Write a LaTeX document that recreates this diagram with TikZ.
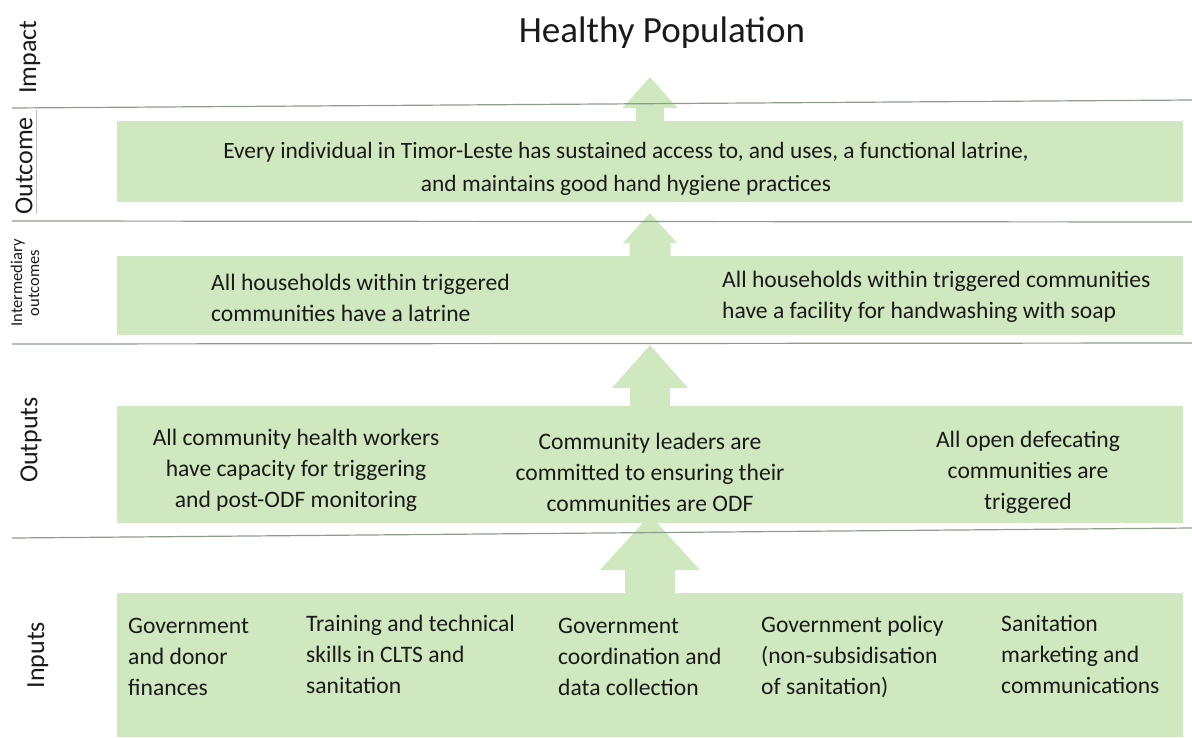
\documentclass[tikz,border=0pt]{standalone}
\usepackage{fontspec}
\setmainfont{Carlito}
\usetikzlibrary{calc}
\definecolor{boxgreen}{HTML}{D0E8BF}
\definecolor{rulegray}{HTML}{8E9C8E}
\definecolor{inkdark}{HTML}{1A1A1A}

\begin{document}
\begin{tikzpicture}[x=1pt,y=-1pt,
  panel/.style={fill=boxgreen, draw=none, inner sep=0pt, minimum width=1066pt},
  blockarrow/.style={fill=boxgreen, draw=none},
  sep/.style={draw=rulegray, line width=1.2pt},
  txt/.style={inner sep=0pt, text=inkdark, font=\fontsize{23.6}{31}\selectfont},
  lbl/.style={inner sep=0pt, rotate=90, text=inkdark, font=\fontsize{26}{30}\selectfont}]

\useasboundingbox (0,0) rectangle (1192,737);

% level panels
\node[panel, minimum height=81pt]  (outc)  at (650,161.5) {};
\node[panel, minimum height=79pt]  (inter) at (650,295.5) {};
\node[panel, minimum height=117pt] (outp)  at (650,464.5) {};
\node[panel, minimum height=144pt] (inp)   at (650,665)   {};

% arrow tips
\coordinate (t1) at (650,77);
\coordinate (t2) at (650,213);
\coordinate (t3) at (650,345);
\coordinate (t4) at (650,515);

% upward block arrows between levels
\fill[blockarrow] ($(outc.north)+(-14,0)$) |- ($(t1)+(-27.5,31)$) -- (t1)
  -- ($(t1)+(27.5,31)$) -| ($(outc.north)+(14,0)$) -- cycle;
\fill[blockarrow] ($(inter.north)+(-20.5,0)$) |- ($(t2)+(-27,30)$) -- (t2)
  -- ($(t2)+(27,30)$) -| ($(inter.north)+(20.5,0)$) -- cycle;
\fill[blockarrow] ($(outp.north)+(-20,0)$) |- ($(t3)+(-38,43)$) -- (t3)
  -- ($(t3)+(38,43)$) -| ($(outp.north)+(20,0)$) -- cycle;
\fill[blockarrow] ($(inp.north)+(-25,0)$) |- ($(t4)+(-50,55)$) -- (t4)
  -- ($(t4)+(50,55)$) -| ($(inp.north)+(25,0)$) -- cycle;

% separators between levels
\draw[sep] (12,108) -- (1192,100);
\draw[sep] (12,221) -- (1192,222);
\draw[sep] (12,344) -- (1192,343);
\draw[sep] (12,538) -- (1192,528);
\draw[draw=black!25, line width=0.6pt] (36,110) -- (36,214);

% level labels
\node[lbl] (limpact) at (30,57)  {Impact};
\node[lbl] (loutc)   at (24,166) {Outcome};
\node[lbl, align=center, font=\fontsize{16.5}{17}\selectfont] (linter) at (25,283) {Intermediary\\outcomes};
\node[lbl] (loutp)   at (31,440) {Outputs};
\node[lbl] (linp)    at (38,655) {Inputs};

% impact
\node[inner sep=0pt, text=inkdark, font=\fontsize{37}{40}\selectfont] (title) at (662,33) {Healthy Population};

% outcome
\node[txt, align=center, font=\fontsize{23.4}{33}\selectfont] (outctxt) at (626,168.5)
  {Every individual in Timor-Leste has sustained access to, and uses, a functional latrine,\\
   and maintains good hand hygiene practices};

% intermediary outcomes
\node[txt, align=left, anchor=west] (im1) at (211,298)
  {All households within triggered\\communities have a latrine};
\node[txt, align=left, anchor=west] (im2) at (722,297)
  {All households within triggered communities\\have a facility for handwashing with soap};

% outputs
\node[txt, align=center] (op1) at (296,470)
  {All community health workers\\have capacity for triggering\\and post-ODF monitoring};
\node[txt, align=center] (op2) at (650,472)
  {Community leaders are\\committed to ensuring their\\communities are ODF};
\node[txt, align=center] (op3) at (1028,472)
  {All open defecating\\communities are\\triggered};

% inputs
\node[txt, align=left, anchor=west] (in1) at (128,657)
  {Government\\and donor\\finances};
\node[txt, align=left, anchor=west] (in2) at (306,654)
  {Training and technical\\skills in CLTS and\\sanitation};
\node[txt, align=left, anchor=west] (in3) at (558,657)
  {Government\\coordination and\\data collection};
\node[txt, align=left, anchor=west] (in4) at (761,657)
  {Government policy\\(non-subsidisation\\of sanitation)};
\node[txt, align=left, anchor=west] (in5) at (1001,654)
  {Sanitation\\marketing and\\communications};

\end{tikzpicture}
\end{document}
